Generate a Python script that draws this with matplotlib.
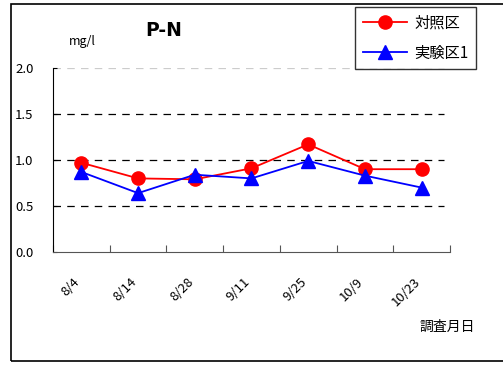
import matplotlib
matplotlib.use("Agg")
import matplotlib.pyplot as plt
import matplotlib.transforms as mtransforms
from matplotlib.patches import Rectangle

plt.rcParams['font.family'] = ['Noto Sans CJK JP', 'DejaVu Sans']

dates = ["8/4", "8/14", "8/28", "9/11", "9/25", "10/9", "10/23"]
control = [0.97, 0.80, 0.79, 0.91, 1.17, 0.90, 0.90]
test1 = [0.87, 0.64, 0.84, 0.80, 0.99, 0.83, 0.70]
yticks = [0.0, 0.5, 1.0, 1.5, 2.0]

fig = plt.figure(figsize=(5.03, 3.65), dpi=100)
ax = fig.add_axes([53 / 503, 1 - 252 / 365, (450 - 53) / 503, (252 - 68) / 365])

# outer frame of the chart area
fig.patches.append(Rectangle((11 / 503, 4 / 365), 1.0, 357 / 365, transform=fig.transFigure,
                             fill=False, edgecolor="black", linewidth=1.2))

x = list(range(len(dates)))
for y in yticks[1:]:
    ax.axhline(y, xmin=0, xmax=0.985, color="#cccccc" if y == 2.0 else "black",
               linestyle=(0, (6, 5)), linewidth=0.9, zorder=1)

ax.plot(x, control, color="red", marker="o", markersize=9.5, linewidth=1.3, label="対照区", zorder=3)
ax.plot(x, test1, color="blue", marker="^", markersize=9.5, linewidth=1.3, label="実験区1", zorder=4)

ax.set_xlim(-0.5, len(dates) - 0.5)
ax.set_ylim(0, 2.0)
ax.set_yticks(yticks)
ax.set_yticklabels([f"{v:.1f}" for v in yticks], fontsize=9.5)
ax.tick_params(axis="y", direction="in", length=3, pad=14)

ax.set_xticks([i - 0.5 for i in range(len(dates) + 1)], minor=False)
ax.set_xticklabels([])
ax.set_xticks(x, minor=True)
ax.set_xticklabels(dates, minor=True, rotation=45, ha="right", va="top",
                   rotation_mode="anchor", fontsize=9.5)
ax.tick_params(axis="x", which="major", direction="in", length=5, color="#555555")
ax.tick_params(axis="x", which="minor", length=0, pad=17)
shift = mtransforms.ScaledTranslation(-8 / 100, 0, fig.dpi_scale_trans)
for lbl in ax.get_xticklabels(minor=True):
    lbl.set_transform(lbl.get_transform() + shift)

for s in ["top", "right"]:
    ax.spines[s].set_visible(False)
ax.spines["left"].set_color("black")
ax.spines["bottom"].set_color("#555555")

fig.text(145 / 503, 1 - 31 / 365, "P-N", fontsize=13.5, fontweight="bold",
         family=["DejaVu Sans"], va="center")
fig.text(69 / 503, 1 - 42 / 365, "mg/l", fontsize=9, va="center")
fig.text(420 / 503, 1 - 327 / 365, "調査月日", fontsize=10, va="center")

leg = fig.legend(loc="upper left", bbox_to_anchor=(355 / 503, 1 - 7 / 365), fontsize=11,
                 frameon=True, fancybox=False, edgecolor="black", handlelength=2.9,
                 borderpad=0.5, labelspacing=0.85, handletextpad=0.5, borderaxespad=0)
leg.get_frame().set_linewidth(1.0)

fig.savefig("out.png", dpi=100)
